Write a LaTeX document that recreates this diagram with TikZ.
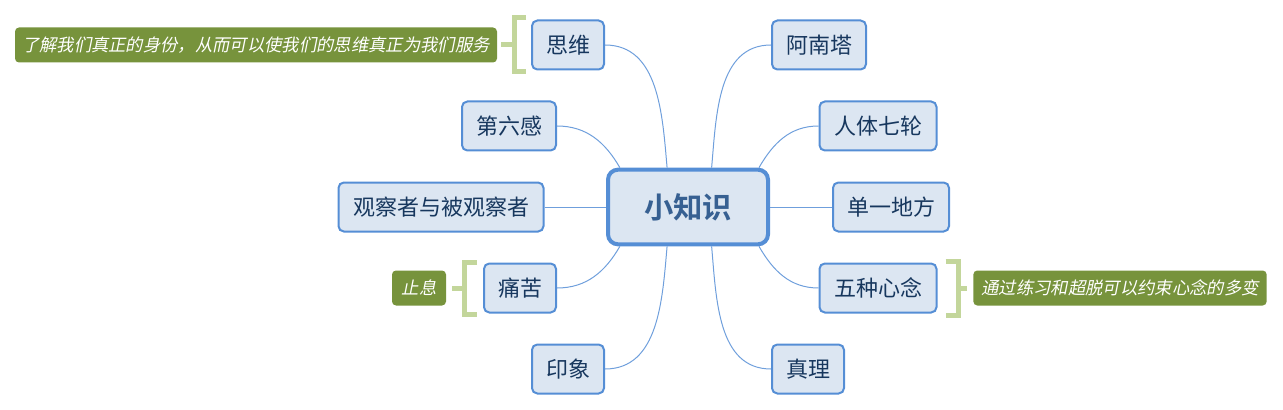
\documentclass[tikz,border=0pt]{standalone}
\usepackage{fontspec}
\setmainfont{Noto Sans CJK SC}[BoldFont={Noto Sans CJK SC Bold},ItalicFont={Noto Sans CJK SC},ItalicFeatures={FakeSlant=0.2}]
\usetikzlibrary{calc}
\definecolor{boxfill}{HTML}{DCE6F2}
\definecolor{boxline}{HTML}{558ED5}
\definecolor{boxtext}{HTML}{17375E}
\definecolor{maintext}{HTML}{376092}
\definecolor{notefill}{HTML}{77933C}
\definecolor{bracegreen}{HTML}{C3D69B}
\definecolor{linkblue}{HTML}{6F9FDC}
\tikzset{
    topic/.style={draw=boxline, fill=boxfill, line width=3pt, rounded corners=7.5pt, minimum width=120pt, minimum height=56pt, text=maintext, font=\fontsize{22}{26}\selectfont\bfseries},
    sub/.style={draw=boxline, fill=boxfill, line width=1.5pt, rounded corners=4pt, minimum width=54pt, minimum height=36.75pt, inner xsep=4pt, text=boxtext, font=\fontsize{16.5}{19}\selectfont},
    note/.style={fill=notefill, rounded corners=3pt, minimum height=26.25pt, inner xsep=4pt, text=white, font=\fontsize{13}{15}\selectfont\itshape},
    link/.style={draw=linkblue, line width=0.75pt},
    bracket/.style={draw=bracegreen, line width=3.75pt}
}

\begin{document}
\begin{tikzpicture}[x=0.75pt, y=-0.75pt]
\useasboundingbox (0,0) rectangle (1283,410);
\node[topic] (main) at (688,207) {小知识};
\node[sub] (siwei) at (568,45) {思维};
\node[sub, minimum width=70.5pt] (diliu) at (509,126) {第六感};
\node[sub, minimum width=153.75pt] (guancha) at (441,207) {观察者与被观察者};
\node[sub] (tongku) at (520,288) {痛苦};
\node[sub] (yinxiang) at (568,369) {印象};
\node[sub, minimum width=70.5pt] (anan) at (819,45) {阿南塔};
\node[sub, minimum width=87.75pt] (qilun) at (878,126) {人体七轮};
\node[sub, minimum width=87pt] (danyi) at (891,207) {单一地方};
\node[sub, minimum width=87.75pt] (xinnian) at (878,288) {五种心念};
\node[sub] (zhenli) at (808,369) {真理};
\node[note, minimum width=361.5pt] (siweinote) at (256,45) {了解我们真正的身份，从而可以使我们的思维真正为我们服务};
\node[note, minimum width=40.5pt] (tongkunote) at (419,288) {止息};
\node[note, minimum width=220pt] (xinniannote) at (1120,288) {通过练习和超脱可以约束心念的多变};
\draw[link] (siwei.east) to[out=0, in=95] (main.118);
\draw[link] (diliu.east) to[out=0, in=120] (main.150);
\draw[link] (guancha.east) -- (main.west);
\draw[link] (tongku.east) to[out=0, in=-120] (main.210);
\draw[link] (yinxiang.east) to[out=0, in=-95] (main.242);
\draw[link] (anan.west) to[out=180, in=85] (main.59);
\draw[link] (qilun.west) to[out=180, in=60] (main.29);
\draw[link] (danyi.west) -- (main.east);
\draw[link] (xinnian.west) to[out=180, in=-60] (main.331);
\draw[link] (zhenli.west) to[out=180, in=-85] (main.301);
\draw[bracket] ($(siwei.west)+(-5,-27)$) -| ($(siwei.west)+(-17,27)$) -- ($(siwei.west)+(-5,27)$);
\draw[bracket] ($(siweinote.east)+(4,0)$) -- ($(siwei.west)+(-17,0)$);
\draw[bracket] ($(tongku.west)+(-6,-26)$) -| ($(tongku.west)+(-19,26)$) -- ($(tongku.west)+(-6,26)$);
\draw[bracket] ($(tongkunote.east)+(6,0)$) -- ($(tongku.west)+(-19,0)$);
\draw[bracket] ($(xinnian.east)+(8,-27)$) -| ($(xinnian.east)+(21,27)$) -- ($(xinnian.east)+(8,27)$);
\draw[bracket] ($(xinnian.east)+(21,0)$) -- ($(xinniannote.west)+(-6,0)$);
\end{tikzpicture}
\end{document}
